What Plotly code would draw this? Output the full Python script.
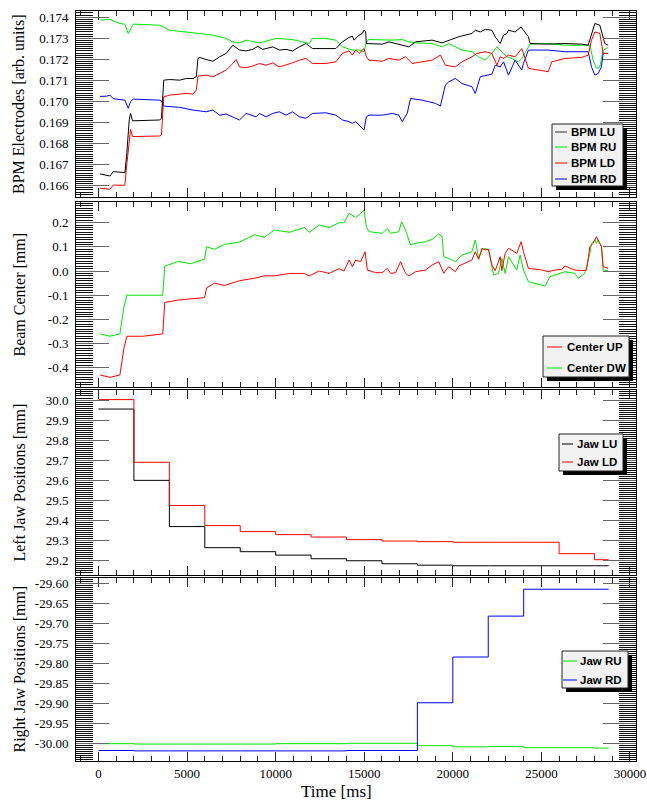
import plotly.graph_objects as go

# ---------------- data ----------------
# BPM electrode signals [arb. units] vs time [ms]
lu_t = [84, 647, 834, 1490, 1584, 1734, 1809, 1922, 3459, 3553, 3684, 4021, 4584, 4958, 5333, 5521, 5615, 5708,
        6083, 6458, 6833, 7208, 7583, 7958, 8333, 8708, 8989, 9270, 9832, 10208, 10582, 10957, 11332, 11707,
        12082, 12832, 13395, 13769, 14144, 14332, 14426, 14707, 14894, 14988, 15082, 15119, 15175, 16019, 16394,
        17144, 17519, 17894, 18831, 19393, 19768, 20331, 21080, 21268, 21549, 21831, 22205, 22393, 22674, 22862,
        23049, 23143, 23518, 23855, 23986, 24268, 24361, 25392, 26330, 27267, 27642, 27829, 28017, 28298, 28429,
        28579, 28767]
lu_v = [0.16656, 0.16646, 0.16667, 0.16662, 0.16738, 0.16912, 0.16943, 0.16908, 0.16912, 0.16920, 0.17101,
        0.17104, 0.17101, 0.17109, 0.17109, 0.17117, 0.17204, 0.17209, 0.17199, 0.17191, 0.17212, 0.17228,
        0.17267, 0.17244, 0.17240, 0.17247, 0.17262, 0.17247, 0.17259, 0.17244, 0.17247, 0.17240, 0.17259,
        0.17275, 0.17251, 0.17251, 0.17251, 0.17283, 0.17304, 0.17310, 0.17291, 0.17315, 0.17323, 0.17338,
        0.17330, 0.17275, 0.17275, 0.17272, 0.17283, 0.17267, 0.17259, 0.17283, 0.17291, 0.17278, 0.17291,
        0.17307, 0.17323, 0.17338, 0.17330, 0.17342, 0.17338, 0.17307, 0.17275, 0.17315, 0.17323, 0.17338,
        0.17330, 0.17354, 0.17338, 0.17307, 0.17275, 0.17272, 0.17275, 0.17272, 0.17267, 0.17323, 0.17370,
        0.17362, 0.17323, 0.17275, 0.17267]

ru_t = [84, 366, 647, 1209, 1490, 1678, 1959, 3459, 4021, 5333, 6458, 7208, 7583, 7958, 8333, 9083, 10020,
        10957, 11895, 12082, 12832, 13395, 13769, 14332, 14707, 14988, 15119, 15269, 16019, 16581, 17144, 17519,
        17894, 18831, 19393, 19768, 20143, 20518, 21080, 21456, 21831, 22205, 22487, 22674, 22862, 23049, 23330,
        23705, 23892, 24268, 24361, 25392, 26330, 27267, 27736, 27923, 28110, 28298, 28486, 28767]
ru_v = [0.17386, 0.17389, 0.17389, 0.17370, 0.17367, 0.17323, 0.17367, 0.17362, 0.17338, 0.17326, 0.17315,
        0.17299, 0.17283, 0.17278, 0.17291, 0.17278, 0.17299, 0.17294, 0.17275, 0.17299, 0.17299, 0.17291,
        0.17259, 0.17244, 0.17244, 0.17236, 0.17283, 0.17294, 0.17291, 0.17291, 0.17294, 0.17283, 0.17278,
        0.17275, 0.17259, 0.17275, 0.17259, 0.17244, 0.17236, 0.17212, 0.17196, 0.17228, 0.17259, 0.17244,
        0.17228, 0.17212, 0.17204, 0.17188, 0.17204, 0.17259, 0.17272, 0.17275, 0.17267, 0.17267, 0.17267,
        0.17196, 0.17157, 0.17164, 0.17244, 0.17256]

ld_t = [84, 647, 834, 1490, 1584, 1809, 1922, 3459, 3553, 3684, 4021, 4584, 4958, 5333, 5521, 5615, 6083, 6458,
        6833, 7208, 7583, 7771, 7958, 8333, 8708, 9083, 9458, 9832, 10208, 10582, 10957, 11332, 11707, 12082,
        12832, 13395, 13769, 14144, 14332, 14519, 14707, 14988, 15119, 15269, 16019, 16394, 16956, 17331, 17706,
        17894, 18831, 19300, 19581, 20143, 20518, 21080, 21362, 21831, 22205, 22487, 22674, 22862, 23143, 23518,
        23892, 23986, 24268, 25392, 25580, 26330, 27267, 27642, 27829, 28017, 28298, 28486, 28767]
ld_v = [0.16588, 0.16583, 0.16603, 0.16602, 0.16690, 0.16867, 0.16833, 0.16836, 0.16840, 0.17022, 0.17030,
        0.17033, 0.17038, 0.17035, 0.17054, 0.17120, 0.17125, 0.17117, 0.17133, 0.17149, 0.17180, 0.17199,
        0.17164, 0.17160, 0.17168, 0.17180, 0.17172, 0.17183, 0.17164, 0.17172, 0.17183, 0.17196, 0.17204,
        0.17180, 0.17180, 0.17188, 0.17228, 0.17240, 0.17220, 0.17244, 0.17228, 0.17251, 0.17212, 0.17196,
        0.17191, 0.17204, 0.17196, 0.17212, 0.17180, 0.17183, 0.17196, 0.17220, 0.17172, 0.17164, 0.17188,
        0.17212, 0.17228, 0.17236, 0.17228, 0.17172, 0.17212, 0.17204, 0.17220, 0.17212, 0.17251, 0.17228,
        0.17157, 0.17141, 0.17188, 0.17204, 0.17209, 0.17220, 0.17291, 0.17330, 0.17323, 0.17228, 0.17228]

rd_t = [84, 459, 647, 834, 1490, 1678, 1809, 1959, 3459, 3553, 3684, 4021, 4584, 5333, 6083, 6458, 6833, 7208,
        7583, 7958, 8333, 8895, 9083, 9458, 9832, 10208, 10582, 10957, 11332, 11707, 12082, 12832, 13395, 13769,
        14144, 14332, 14519, 14707, 14988, 15119, 15269, 16019, 16581, 16956, 17144, 17425, 17613, 18268, 19019,
        19300, 19581, 19768, 20143, 20518, 21080, 21268, 21549, 22205, 22393, 22674, 22862, 23143, 23518, 23892,
        23986, 24268, 25392, 26330, 27267, 27642, 27829, 28017, 28204, 28392, 28486, 28767]
rd_v = [0.17024, 0.17025, 0.17030, 0.17013, 0.17006, 0.16967, 0.16999, 0.17011, 0.17006, 0.17003, 0.16978,
        0.16975, 0.16972, 0.16959, 0.16951, 0.16959, 0.16935, 0.16940, 0.16927, 0.16912, 0.16943, 0.16927,
        0.16943, 0.16927, 0.16943, 0.16951, 0.16935, 0.16951, 0.16927, 0.16920, 0.16943, 0.16946, 0.16935,
        0.16912, 0.16904, 0.16896, 0.16904, 0.16888, 0.16864, 0.16927, 0.16935, 0.16935, 0.16943, 0.16935,
        0.16904, 0.16943, 0.17014, 0.17006, 0.16991, 0.16978, 0.17078, 0.17093, 0.17109, 0.17085, 0.17070,
        0.17038, 0.17117, 0.17130, 0.17172, 0.17164, 0.17188, 0.17125, 0.17196, 0.17149, 0.17180, 0.17244,
        0.17244, 0.17236, 0.17236, 0.17236, 0.17164, 0.17125, 0.17133, 0.17164, 0.17228, 0.17228]

# Beam centre [mm]
up_t = [84, 647, 1209, 1434, 1603, 2500, 3627, 3740, 4500, 5990, 6102, 6552, 7114, 7958, 8802, 9364, 9926,
        10770, 11614, 11895, 12457, 13020, 13582, 13863, 14144, 14332, 14519, 14800, 15044, 15175, 15644, 16019,
        16300, 16488, 16769, 17050, 17331, 17519, 17894, 18456, 18831, 19206, 19487, 19768, 20143, 20331, 21080,
        21268, 21456, 21643, 21831, 22018, 22205, 22393, 22674, 22768, 22955, 23143, 23330, 23611, 23855, 23986,
        24268, 25017, 25392, 25767, 26142, 26330, 26892, 27267, 27548, 27736, 27923, 28110, 28242, 28392, 28486,
        28767]
up_v = [-0.43, -0.44, -0.43, -0.32, -0.27, -0.27, -0.26, -0.13, -0.12, -0.11, -0.07, -0.05, -0.06, -0.04,
        -0.03, -0.02, -0.02, -0.01, -0.01, -0.02, 0.0, -0.01, 0.01, 0.0, 0.0455, 0.0179, 0.0455, 0.0386, 0.080,
        0.0041, -0.0069, -0.0069, 0.011, -0.0097, -0.0069, 0.0386, -0.0097, -0.0207, -0.0028, 0.0041, 0.0248,
        0.0386, -0.0097, 0.0179, -0.0028, 0.0207, 0.0455, 0.080, 0.0483, 0.0938, 0.0869, 0.0897, 0.0248, 0.0014,
        0.0593, 0.0014, 0.0731, 0.0938, 0.0869, 0.0731, 0.1214, 0.080, 0.011, 0.0041, -0.0028, 0.0041, 0.0069,
        0.0207, 0.0041, 0.0014, 0.0041, 0.1007, 0.1145, 0.1421, 0.1214, 0.1007, 0.0179, 0.011]

dw_t = [84, 647, 1209, 1434, 1603, 2500, 3627, 3740, 4500, 5200, 5990, 6102, 6552, 7114, 7958, 8802, 9364,
        9926, 10770, 11614, 11895, 12457, 13020, 13582, 13863, 14144, 14519, 14707, 14988, 15119, 15269, 16019,
        16300, 16488, 16956, 17106, 17331, 17613, 17894, 18456, 18831, 19206, 19393, 19487, 19768, 20143, 20518,
        21080, 21268, 21456, 21643, 21831, 22018, 22299, 22580, 22768, 22955, 23143, 23424, 23611, 23799, 23986,
        24268, 24643, 25205, 25486, 25767, 26330, 26892, 27080, 27455, 27736, 27829, 28017, 28110, 28204, 28392,
        28486, 28767]
dw_v = [-0.26, -0.27, -0.26, -0.15, -0.10, -0.10, -0.10, 0.02, 0.04, 0.03, 0.05, 0.10, 0.09, 0.11, 0.12, 0.15,
        0.14, 0.17, 0.16, 0.18, 0.16, 0.19, 0.18, 0.20, 0.20, 0.2386, 0.222, 0.2317, 0.2524, 0.1834, 0.1628,
        0.1559, 0.1766, 0.1559, 0.1628, 0.2041, 0.1697, 0.1076, 0.1145, 0.1214, 0.131, 0.1531, 0.1421, 0.0593,
        0.0524, 0.0386, 0.0662, 0.080, 0.1283, 0.0524, 0.0869, 0.0938, 0.0869, -0.0166, -0.0097, 0.0524,
        -0.0097, 0.0593, 0.0248, 0.0041, 0.0662, 0.0041, -0.0441, -0.051, -0.0621, -0.0234, -0.0166, -0.0028,
        -0.0097, -0.0303, -0.0097, 0.0731, 0.1145, 0.1283, 0.1145, 0.1283, 0.1007, 0.0041, 0.0014]

# Jaw positions [mm] (set-points, held between moves)
jaw_t = [0, 2000, 4000, 6000, 8000, 10000, 12000, 14000, 16000, 18000, 20000, 22000, 24000, 26000, 28000, 28800]
jaw_lu = [29.955, 29.600, 29.370, 29.265, 29.245, 29.228, 29.210, 29.200, 29.185, 29.178, 29.175, 29.175,
          29.175, 29.175, 29.175, 29.175]
jaw_ld = [30.002, 29.690, 29.475, 29.375, 29.345, 29.330, 29.318, 29.305, 29.298, 29.295, 29.292, 29.292,
          29.292, 29.235, 29.205, 29.205]
jaw_ru = [-30.000, -30.001, -30.001, -30.001, -30.001, -30.000, -30.000, -29.999, -29.999, -30.005, -30.008,
          -30.007, -30.010, -30.010, -30.011, -30.011]
jaw_rd = [-30.017, -30.018, -30.018, -30.018, -30.018, -30.018, -30.018, -30.017, -30.017, -29.898, -29.784,
          -29.682, -29.615, -29.615, -29.615, -29.615]

# axis ticks
x_ticks = [0, 5000, 10000, 15000, 20000, 25000, 30000]
x_ticktext = ["0", "5000", "10000", "15000", "20000", "25000", "30000"]
y1_ticks = [0.166, 0.167, 0.168, 0.169, 0.170, 0.171, 0.172, 0.173, 0.174]
y1_text = ["0.166", "0.167", "0.168", "0.169", "0.170", "0.171", "0.172", "0.173", "0.174"]
y2_ticks = [-0.4, -0.3, -0.2, -0.1, 0.0, 0.1, 0.2]
y2_text = ["-0.4", "-0.3", "-0.2", "-0.1", "0.0", "0.1", "0.2"]
y3_ticks = [29.2, 29.3, 29.4, 29.5, 29.6, 29.7, 29.8, 29.9, 30.0]
y3_text = ["29.2", "29.3", "29.4", "29.5", "29.6", "29.7", "29.8", "29.9", "30.0"]
y4_ticks = [-30.00, -29.95, -29.90, -29.85, -29.80, -29.75, -29.70, -29.65, -29.60]
y4_text = ["-30.00", "-29.95", "-29.90", "-29.85", "-29.80", "-29.75", "-29.70", "-29.65", "-29.60"]

# ---------------- layout helpers ----------------
W, H = 647, 801
SERIF = "Liberation Serif, Times New Roman, serif"
SANS = "Liberation Sans, Arial, sans-serif"
GREEN, RED, BLUE, BLACK = "#00e600", "#ff0000", "#0000ff", "#000000"

FRAME_X = (76, 636)
FRAMES = {1: (11, 197), 2: (202, 387), 3: (390, 575), 4: (578, 761)}
YRANGES = {1: [0.165463, 0.174294], 2: [-0.4799, 0.2856], 3: [29.129, 30.0498], 4: [-30.0432, -29.5870]}
YMINOR = {1: 0.0001, 2: 0.01, 3: 0.01, 4: 0.005}
YTICKS = {1: (y1_ticks, y1_text), 2: (y2_ticks, y2_text), 3: (y3_ticks, y3_text), 4: (y4_ticks, y4_text)}
YTITLES = {1: "BPM Electrodes [arb. units]", 2: "Beam Center [mm]", 3: "Left Jaw Positions [mm]",
           4: "Right Jaw Positions [mm]"}
XRANGE = [-1270, 30340]


def fx(px):
    return px / W


def fy(py):
    return 1 - py / H


fig = go.Figure()


def add(x, y, color, panel, shape="linear"):
    sfx = "" if panel == 1 else str(panel)
    fig.add_trace(go.Scatter(x=x, y=y, mode="lines", line=dict(color=color, width=1, shape=shape),
                             xaxis="x" + sfx, yaxis="y" + sfx, showlegend=False, hoverinfo="skip"))


add(ru_t, ru_v, GREEN, 1)
add(rd_t, rd_v, BLUE, 1)
add(ld_t, ld_v, RED, 1)
add(lu_t, lu_v, BLACK, 1)
add(dw_t, dw_v, GREEN, 2)
add(up_t, up_v, RED, 2)
add(jaw_t, jaw_lu, BLACK, 3, "hv")
add(jaw_t, jaw_ld, RED, 3, "hv")
add(jaw_t, jaw_ru, GREEN, 4, "hv")
add(jaw_t, jaw_rd, BLUE, 4, "hv")

layout = dict(width=W, height=H, margin=dict(l=0, r=0, t=0, b=0, autoexpand=False), paper_bgcolor="white",
              plot_bgcolor="white", showlegend=False)

for p in range(1, 5):
    sfx = "" if p == 1 else str(p)
    top, bot = FRAMES[p]
    layout["xaxis" + sfx] = dict(
        domain=[fx(FRAME_X[0]), fx(FRAME_X[1])], anchor="y" + sfx, range=XRANGE, automargin=False,
        tickmode="array", tickvals=x_ticks, ticktext=x_ticktext, ticks="inside", ticklen=9,
        tickcolor="#222", tickwidth=1, minor=dict(ticks="inside", ticklen=5, tickmode="linear", tick0=0,
                                                  dtick=1000, tickcolor="#222", showgrid=False),
        showline=True, linecolor="black", linewidth=1, mirror="allticks", showgrid=False, zeroline=False,
        showticklabels=(p == 4), ticklabeloverflow="allow",
        tickfont=dict(family=SERIF, size=13, color="black"),
        **({} if p == 1 else {"matches": "x"}))
    tv, tt = YTICKS[p]
    layout["yaxis" + sfx] = dict(
        domain=[fy(bot), fy(top)], anchor="x" + sfx, range=YRANGES[p], automargin=False,
        tickmode="array", tickvals=tv,
        ticktext=tt, ticks="inside", ticklen=33, tickcolor="#666", tickwidth=1,
        minor=dict(ticks="inside", ticklen=17, tickmode="linear", tick0=tv[0], dtick=YMINOR[p],
                   tickcolor="#111", showgrid=False),
        showline=True, linecolor="black", linewidth=1, mirror="allticks", showgrid=False, zeroline=False,
        ticklabeloverflow="allow", tickfont=dict(family=SERIF, size=13, color="black"), ticklabelstandoff=4)

annotations = []
for p in range(1, 5):
    top, bot = FRAMES[p]
    annotations.append(dict(text=YTITLES[p], x=fx(19), y=fy((top + bot) / 2), xref="paper", yref="paper",
                            textangle=-90, showarrow=False, xanchor="center", yanchor="middle",
                            font=dict(family=SERIF, size=16, color="black")))
annotations.append(dict(text="Time [ms]", x=fx(336), y=fy(791), xref="paper", yref="paper", showarrow=False,
                        xanchor="center", yanchor="middle", font=dict(family=SERIF, size=17, color="black")))

# legend boxes: (left, top, right, bottom, sample x0, sample x1, text x, [(label, color, y)])
LEGENDS = [
    (552, 124, 623, 186, 555, 567, 569, [("BPM LU", "#333", 132), ("BPM RU", GREEN, 147),
                                         ("BPM LD", RED, 163), ("BPM RD", BLUE, 179)]),
    (543, 336, 629, 377, 547, 562, 565, [("Center UP", RED, 347), ("Center DW", GREEN, 368)]),
    (559, 434, 623, 471, 562, 573, 575, [("Jaw LU", BLACK, 444), ("Jaw LD", RED, 462)]),
    (562, 651, 628, 688, 563, 577, 578, [("Jaw RU", GREEN, 661), ("Jaw RD", BLUE, 680)]),
]
shapes = []
for (l, t, r, b, s0, s1, tx, entries) in LEGENDS:
    shapes.append(dict(type="rect", xref="paper", yref="paper", x0=fx(l + 4), x1=fx(r + 4), y0=fy(b + 4),
                       y1=fy(t + 4), fillcolor="black", line=dict(width=0), layer="above"))
    shapes.append(dict(type="rect", xref="paper", yref="paper", x0=fx(l), x1=fx(r), y0=fy(b), y1=fy(t),
                       fillcolor="#f2f2f2", line=dict(color="#222", width=1), layer="above"))
    for (lab, col, yy) in entries:
        shapes.append(dict(type="line", xref="paper", yref="paper", x0=fx(s0), x1=fx(s1), y0=fy(yy), y1=fy(yy),
                           line=dict(color=col, width=1), layer="above"))
        annotations.append(dict(text="<b>%s</b>" % lab, x=fx(tx), y=fy(yy), xref="paper", yref="paper",
                                showarrow=False, xanchor="left", yanchor="middle",
                                font=dict(family=SANS, size=11.5, color="black")))

layout["annotations"] = annotations
layout["shapes"] = shapes
fig.update_layout(**layout)
fig.write_html("out.html")
